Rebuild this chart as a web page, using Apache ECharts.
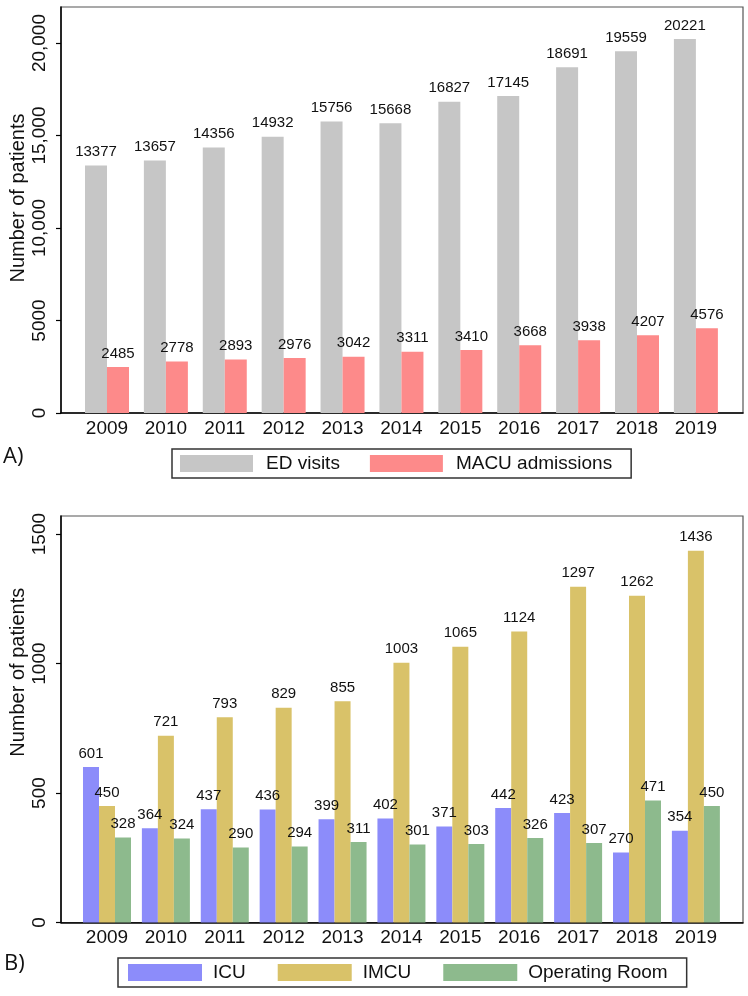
<!DOCTYPE html>
<html>
<head>
<meta charset="utf-8">
<script src="https://cdn.jsdelivr.net/npm/echarts@6/dist/echarts.min.js"></script>
<style>
  html, body { margin: 0; padding: 0; background: #fff; }
  #chart { width: 748px; height: 996px; }
</style>
</head>
<body>
<div id="chart"></div>
<script>
const years = [2009, 2010, 2011, 2012, 2013, 2014, 2015, 2016, 2017, 2018, 2019]

// panel A
const edVisits = [13377, 13657, 14356, 14932, 15756, 15668, 16827, 17145, 18691, 19559, 20221]
const macuAdmissions = [2485, 2778, 2893, 2976, 3042, 3311, 3410, 3668, 3938, 4207, 4576]
const ticksA = [0, 5000, 10000, 15000, 20000]

// panel B
const icu = [601, 364, 437, 436, 399, 402, 371, 442, 423, 270, 354]
const imcu = [450, 721, 793, 829, 855, 1003, 1065, 1124, 1297, 1262, 1436]
const operatingRoom = [328, 324, 290, 294, 311, 301, 303, 326, 307, 471, 450]
const ticksB = [0, 500, 1000, 1500]

const FONT = 'Liberation Sans'
const pairs = vals => years.map((y, i) => [y, vals[i]])

const chart = echarts.init(document.getElementById('chart'), null, { renderer: 'canvas' })

const xAxisBase = gridIndex => ({
  type: 'value',
  gridIndex,
  min: 2008.219,
  max: 2019.80,
  axisLine: { show: true, onZero: false, lineStyle: { color: '#000', width: 1.5 } },
  axisTick: { show: false },
  splitLine: { show: false },
  axisLabel: {
    customValues: years,
    formatter: v => String(v),
    fontFamily: FONT,
    fontSize: 19,
    color: '#111',
    margin: 6
  }
})

const yAxisBase = (gridIndex, max, ticks, padLeft) => ({
  type: 'value',
  gridIndex,
  min: 0,
  max,
  name: 'Number of patients',
  nameLocation: 'middle',
  nameGap: 33,
  nameMoveOverlap: false,
  nameTextStyle: { fontFamily: FONT, fontSize: 20, color: '#111', padding: [0, 0, 0, padLeft] },
  axisLine: { show: true, lineStyle: { color: '#000', width: 1.5 } },
  axisTick: { show: true, customValues: ticks, length: 5, lineStyle: { color: '#000', width: 1.2 } },
  splitLine: { show: false },
  axisLabel: {
    customValues: ticks,
    rotate: 90,
    formatter: v => (v >= 10000 ? v.toLocaleString('en-US') : String(v)),
    fontFamily: FONT,
    fontSize: 19,
    color: '#111',
    margin: 12
  }
})

const barLabel = {
  show: true,
  position: 'top',
  distance: 6,
  fontFamily: FONT,
  fontSize: 15,
  color: '#111',
  formatter: p => String(p.value[1])
}

const legendBase = {
  orient: 'horizontal',
  icon: 'rect',
  itemHeight: 17,
  borderColor: '#333',
  borderWidth: 1.5,
  borderRadius: 0,
  selectedMode: false
}

const gridBase = {
  left: 61,
  right: 5,
  show: true,
  borderColor: '#555',
  borderWidth: 1.2,
  backgroundColor: 'transparent',
  containLabel: false,
  outerBoundsMode: 'none'
}

const option = {
  animation: false,
  backgroundColor: '#fff',
  grid: [
    { ...gridBase, top: 7, height: 406 },
    { ...gridBase, top: 516, height: 406.5 }
  ],
  xAxis: [xAxisBase(0), xAxisBase(1)],
  yAxis: [
    yAxisBase(0, 21950, ticksA, 24),
    yAxisBase(1, 1570, ticksB, 94)
  ],
  legend: [
    {
      ...legendBase,
      left: 172,
      top: 449,
      itemWidth: 73,
      itemGap: 30,
      padding: [5, 19, 5, 8],
      textStyle: { fontFamily: FONT, fontSize: 19, color: '#111', padding: [0, 0, 0, 8] },
      data: ['ED visits', 'MACU admissions']
    },
    {
      ...legendBase,
      left: 118,
      top: 958,
      itemWidth: 74,
      itemGap: 32,
      padding: [5, 19, 5, 10],
      textStyle: { fontFamily: FONT, fontSize: 19, color: '#111', padding: [0, 0, 0, 6] },
      data: ['ICU', 'IMCU', 'Operating Room']
    }
  ],
  graphic: [
    { type: 'text', left: 3, top: 446, style: { text: 'A)', fontFamily: 'Open Sans', fontSize: 22, fill: '#111' } },
    { type: 'text', left: 4, top: 953, style: { text: 'B)', fontFamily: 'Open Sans', fontSize: 22, fill: '#111' } }
  ],
  series: [
    {
      name: 'ED visits', type: 'bar', xAxisIndex: 0, yAxisIndex: 0,
      barWidth: 22, barGap: '0%',
      itemStyle: { color: '#c6c6c6' },
      label: barLabel,
      data: pairs(edVisits)
    },
    {
      name: 'MACU admissions', type: 'bar', xAxisIndex: 0, yAxisIndex: 0,
      barWidth: 22, barGap: '0%',
      itemStyle: { color: '#fd8a8a' },
      label: barLabel,
      data: pairs(macuAdmissions)
    },
    {
      name: 'ICU', type: 'bar', xAxisIndex: 1, yAxisIndex: 1,
      barWidth: 16, barGap: '0%',
      itemStyle: { color: '#8c8cfa' },
      label: barLabel,
      data: pairs(icu)
    },
    {
      name: 'IMCU', type: 'bar', xAxisIndex: 1, yAxisIndex: 1,
      barWidth: 16, barGap: '0%',
      itemStyle: { color: '#d9c269' },
      label: barLabel,
      data: pairs(imcu)
    },
    {
      name: 'Operating Room', type: 'bar', xAxisIndex: 1, yAxisIndex: 1,
      barWidth: 16, barGap: '0%',
      itemStyle: { color: '#8dba8d' },
      label: barLabel,
      data: pairs(operatingRoom)
    }
  ]
}

chart.setOption(option)
</script>
</body>
</html>
